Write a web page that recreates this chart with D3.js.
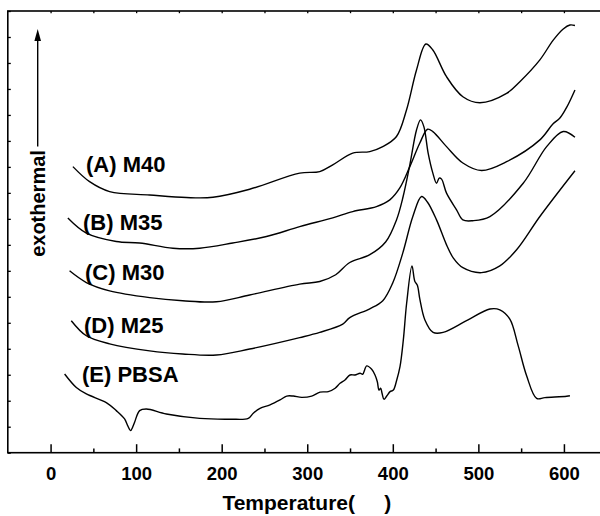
<!DOCTYPE html>
<html>
<head>
<meta charset="utf-8">
<script src="https://cdn.jsdelivr.net/npm/d3@7"></script>
<style>
  html, body { margin: 0; padding: 0; background: #fff; }
  svg { display: block; }
  text { font-family: "Liberation Sans", Arial, sans-serif; fill: #000; }
</style>
</head>
<body>
<svg id="chart" width="600" height="516"></svg>
<script>
// DSC traces: [temperature (°C), heat flow (a.u., stacked offsets)]
const m40 = [
  [26.1, 11.01], [45.6, 10.43], [69.0, 10.05], [115.8, 9.92], [158.7, 9.82],
  [189.8, 9.83], [232.7, 10.14], [291.2, 10.76], [314.6, 10.82], [329.8, 11.08],
  [353.2, 11.53], [373.1, 11.59], [388.3, 11.78], [404.3, 12.17], [416.0, 13.19],
  [427.7, 14.73], [438.6, 15.73], [446.8, 15.50], [462.8, 14.47], [481.9, 13.70],
  [501.8, 13.47], [533.0, 13.83], [548.5, 14.28], [571.9, 15.12], [587.5, 15.88],
  [599.2, 16.31], [607.0, 16.46], [612.9, 16.44]
];
const m35 = [
  [20.2, 9.03], [41.8, 8.45], [76.8, 8.13], [104.1, 8.07], [143.0, 7.87],
  [174.3, 7.87], [212.9, 8.07], [252.3, 8.32], [291.2, 8.70], [329.8, 9.04],
  [353.2, 9.28], [380.9, 9.47], [396.5, 9.73], [408.2, 10.19], [419.9, 11.01],
  [431.6, 11.92], [440.6, 12.45], [446.8, 12.36], [462.8, 11.78], [481.9, 11.15],
  [503.7, 10.86], [533.0, 11.20], [571.9, 12.04], [587.1, 12.65], [595.3, 12.88],
  [603.5, 13.31], [612.9, 13.96]
];
const m30 = [
  [22.2, 7.00], [41.8, 6.55], [69.0, 6.23], [115.8, 5.97], [154.4, 5.85],
  [193.8, 5.81], [232.7, 6.07], [291.2, 6.49], [314.6, 6.59], [333.3, 6.85],
  [349.7, 7.32], [373.1, 7.62], [391.8, 8.12], [404.3, 8.96], [412.0, 9.85],
  [419.9, 11.08], [427.7, 12.42], [432.4, 12.81], [436.3, 12.55], [441.3, 11.53],
  [446.8, 10.76], [451.1, 10.37], [454.2, 10.57], [457.0, 10.53], [462.8, 9.99],
  [474.5, 9.35], [481.9, 8.96], [493.6, 8.93], [513.5, 9.09], [552.4, 10.37],
  [579.8, 11.78], [599.2, 12.36], [612.9, 12.14]
];
const m25 = [
  [24.2, 5.08], [41.8, 4.50], [69.0, 4.19], [115.8, 3.92], [154.4, 3.80],
  [193.8, 3.76], [232.7, 3.99], [291.2, 4.43], [314.6, 4.63], [341.5, 4.95],
  [349.7, 5.20], [373.1, 5.54], [388.3, 5.85], [400.0, 6.54], [411.7, 7.69],
  [423.4, 9.09], [433.6, 9.86], [440.4, 9.65], [451.1, 8.96], [462.8, 8.00],
  [470.6, 7.50], [481.9, 7.12], [503.7, 6.93], [525.1, 7.19], [544.7, 7.81],
  [571.9, 9.09], [612.9, 10.85]
];
const pbsa = [
  [16.4, 3.03], [30.1, 2.51], [41.8, 2.26], [65.1, 1.93], [76.8, 1.62],
  [86.5, 1.30], [90.1, 1.04], [93.6, 0.85], [95.9, 0.98], [98.2, 1.17],
  [104.1, 1.62], [111.9, 1.68], [135.3, 1.49], [174.3, 1.32], [209.7, 1.29],
  [231.1, 1.32], [236.9, 1.52], [244.8, 1.71], [256.5, 1.84], [268.2, 2.03],
  [276.0, 2.18], [283.7, 2.18], [293.5, 2.13], [305.2, 2.18], [314.9, 2.33],
  [324.6, 2.35], [332.6, 2.48], [338.3, 2.67], [344.1, 2.80], [350.0, 2.99],
  [355.8, 2.99], [361.7, 3.06], [364.8, 3.02], [369.5, 3.34], [375.3, 3.21],
  [379.2, 2.99], [381.9, 2.73], [383.9, 2.41], [385.8, 2.48], [387.4, 2.29],
  [389.7, 2.06], [392.9, 2.18], [396.8, 2.35], [400.6, 2.41], [404.6, 2.80],
  [408.4, 3.31], [412.3, 4.34], [416.2, 5.76], [422.4, 7.19], [425.7, 6.60],
  [428.7, 6.44], [431.6, 5.91], [437.4, 5.12], [447.1, 4.63], [458.8, 4.63],
  [486.2, 5.08], [513.5, 5.53], [525.1, 5.50], [536.8, 5.14], [546.5, 4.12],
  [556.4, 2.96], [568.1, 2.09], [577.8, 2.12], [603.2, 2.17], [607.0, 2.19]
];

const traces = [m40, m35, m30, m25, pbsa];
const traceLabels = ["(A) M40", "(B) M35", "(C) M30", "(D) M25", "(E) PBSA"];
const majorTicks = [0, 100, 200, 300, 400, 500, 600];
const minorTicks = [50, 150, 250, 350, 450, 550];

const svg = d3.select("#chart");

const x = d3.scaleLinear().domain([-50, 650]).range([7.8, 606.7]);
const y = d3.scaleLinear().domain([0, 17]).range([452.7, 11]);

// frame
svg.append("rect")
  .attr("x", x(-50)).attr("y", y(17))
  .attr("width", x(650) - x(-50)).attr("height", y(0) - y(17))
  .attr("fill", "none").attr("stroke", "#000").attr("stroke-width", 1.6);

// bottom axis: inward major and minor ticks
const gBottom = svg.append("g").attr("transform", `translate(0,${y(0)})`);
gBottom.call(d3.axisBottom(x).tickValues(majorTicks).tickSizeInner(-8.5).tickSizeOuter(0).tickFormat(d3.format("d")));
gBottom.append("g").call(d3.axisBottom(x).tickValues(minorTicks).tickSizeInner(-4.3).tickSizeOuter(0).tickFormat(""));
gBottom.selectAll(".domain").remove();
gBottom.selectAll("line").attr("stroke", "#000").attr("stroke-width", 1.5);
gBottom.selectAll("text")
  .attr("y", 27.3).attr("dy", 0)
  .style("font-size", "18.5px").style("font-weight", "bold")
  .style("font-family", "'Liberation Sans', Arial, sans-serif");

// top axis: short inward ticks
const gTop = svg.append("g").attr("transform", `translate(0,${y(17)})`);
gTop.call(d3.axisTop(x).tickValues(d3.range(0, 651, 50)).tickSizeInner(-2.2).tickSizeOuter(0).tickFormat(""));
gTop.selectAll(".domain").remove();
gTop.selectAll("line").attr("stroke", "#000").attr("stroke-width", 1.3);

// left axis: unlabeled inward ticks
const gLeft = svg.append("g").attr("transform", `translate(${x(-50)},0)`);
gLeft.call(d3.axisLeft(y).tickValues(d3.range(0, 18)).tickSizeInner(-3).tickSizeOuter(0).tickFormat(""));
gLeft.selectAll(".domain").remove();
gLeft.selectAll("line").attr("stroke", "#000").attr("stroke-width", 1.3);

// traces
const line = d3.line()
  .x(d => x(d[0]))
  .y(d => y(d[1]))
  .curve(d3.curveCatmullRom.alpha(0.5));

svg.append("g").selectAll("path")
  .data(traces)
  .join("path")
  .attr("d", line)
  .attr("fill", "none")
  .attr("stroke", "#000")
  .attr("stroke-width", 1.4)
  .attr("stroke-linejoin", "round");

// trace labels
const labelPos = [[86, 172], [83, 230], [85, 280], [84, 333], [82, 382]];
svg.append("g").selectAll("text")
  .data(traceLabels)
  .join("text")
  .attr("x", (d, i) => labelPos[i][0])
  .attr("y", (d, i) => labelPos[i][1])
  .style("font-size", "22px")
  .style("font-weight", "bold")
  .text(d => d);

// y-axis caption with upward arrow
svg.append("text")
  .attr("transform", "translate(45,203.5) rotate(-90)")
  .attr("text-anchor", "middle")
  .style("font-size", "20px")
  .style("font-weight", "bold")
  .text("exothermal");

svg.append("line")
  .attr("x1", 37.7).attr("x2", 37.7)
  .attr("y1", 146.5).attr("y2", 38)
  .attr("stroke", "#000").attr("stroke-width", 1.4);
svg.append("path")
  .attr("d", "M37.7,29 L34.4,41 L41,41 Z")
  .attr("fill", "#000");

// x-axis title
svg.append("text")
  .attr("x", 306.8).attr("y", 510)
  .attr("text-anchor", "middle")
  .style("font-size", "21px")
  .style("font-weight", "bold")
  .style("white-space", "pre")
  .text("Temperature(     )");
</script>
</body>
</html>
